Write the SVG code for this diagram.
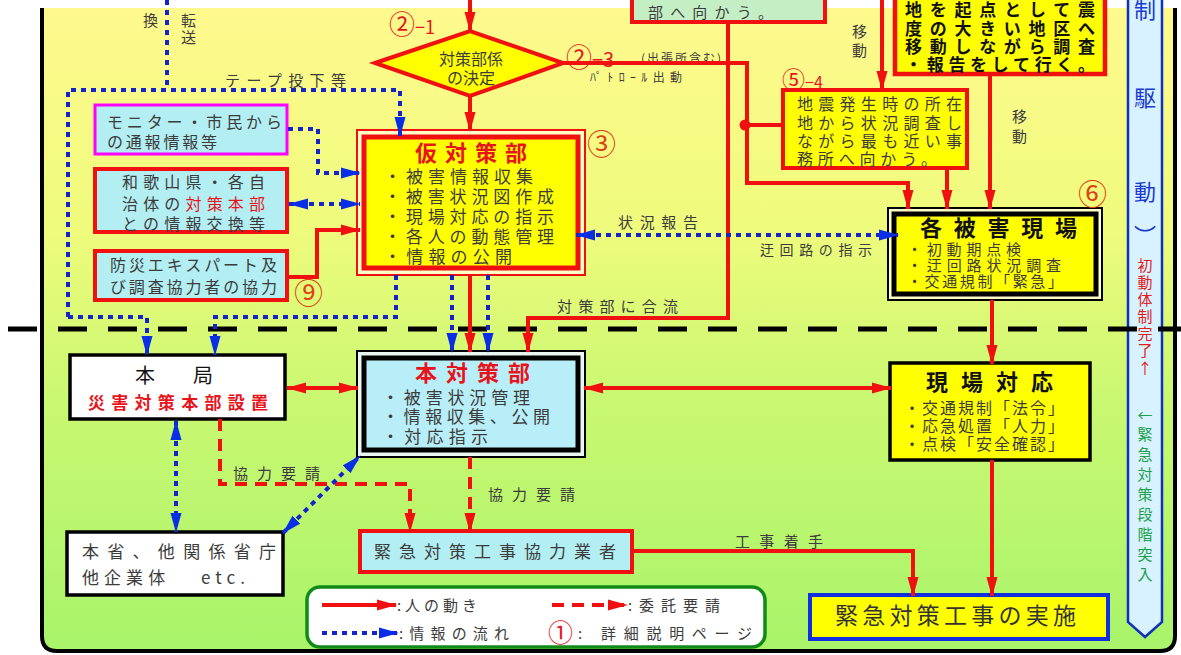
<svg xmlns="http://www.w3.org/2000/svg" width="1181" height="655" viewBox="0 0 1181 655">
<defs>
<linearGradient id="bg" x1="0" y1="0" x2="0" y2="1">
<stop offset="0" stop-color="#fff98e"/>
<stop offset="0.35" stop-color="#eefb7c"/>
<stop offset="0.6" stop-color="#cbf872"/>
<stop offset="1" stop-color="#a8f46a"/>
</linearGradient>
<marker id="ar" markerUnits="userSpaceOnUse" markerWidth="20" markerHeight="12" viewBox="0 0 20 12" refX="19" refY="6" orient="auto-start-reverse"><path d="M0,0.5 L20,6 L0,11.5 Z" fill="#f01010"/></marker>
<marker id="ab" markerUnits="userSpaceOnUse" markerWidth="20" markerHeight="12" viewBox="0 0 20 12" refX="19" refY="6" orient="auto-start-reverse"><path d="M0,0.5 L20,6 L0,11.5 Z" fill="#0a2ee6"/></marker>
</defs>
<style>
.tx{font-family:"Noto Sans CJK JP","Noto Sans CJK SC",sans-serif;fill:#3c3c3c}
.bd{font-weight:bold}
.red{fill:#e8141c}
.org{fill:#e04018}
.rl{fill:none;stroke:#f01010;stroke-width:4}
.rd{fill:none;stroke:#f01010;stroke-width:4;stroke-dasharray:12 8}
.bl{fill:none;stroke:#1424c8;stroke-width:4;stroke-dasharray:5 5}
.cy{fill:#b2eef2}
.ye{fill:#ffff00}
</style>
<rect x="0" y="0" width="1181" height="655" fill="#ffffff"/>
<path d="M42,8 L42,636 Q42,651 57,651 L1160,651 Q1175,651 1175,636 L1175,8" fill="url(#bg)" stroke="#000" stroke-width="4"/>
<g id="side-bar">
<path d="M1128,-5 L1128,622 L1145,637 L1162,622 L1162,-5 Z" fill="#d8f2ff" stroke="#1030c0" stroke-width="2.5"/>
<text class="tx" font-size="22" text-anchor="middle" style="fill:#1a3ad0"><tspan x="1145" y="18">制</tspan><tspan x="1145" y="106">駆</tspan><tspan x="1145" y="200">動</tspan><tspan x="1145" y="244">︶</tspan></text>
<text class="tx" font-size="15" text-anchor="middle" style="fill:#e02020"><tspan x="1145" y="271">初</tspan><tspan x="1145" y="288">動</tspan><tspan x="1145" y="305">体</tspan><tspan x="1145" y="322">制</tspan><tspan x="1145" y="339">完</tspan><tspan x="1145" y="356">了</tspan><tspan x="1145" y="374">↑</tspan></text>
<text class="tx" font-size="15" text-anchor="middle" style="fill:#20a048"><tspan x="1145" y="421">←</tspan><tspan x="1145" y="440">緊</tspan><tspan x="1145" y="460">急</tspan><tspan x="1145" y="480">対</tspan><tspan x="1145" y="500">策</tspan><tspan x="1145" y="520">段</tspan><tspan x="1145" y="540">階</tspan><tspan x="1145" y="560">突</tspan><tspan x="1145" y="580">入</tspan></text>
</g>
<line x1="8" y1="329" x2="1181" y2="329" stroke="#000" stroke-width="5" stroke-dasharray="29 21"/>

<g id="n-top-green">
<rect x="632" y="-10" width="193" height="32" fill="#c4eec4" stroke="#f01010" stroke-width="4"/>
<text class="tx" x="648" y="18" font-size="15" textLength="125">部へ向かう。</text>
</g>
<g id="n-top-right">
<rect x="895" y="-20" width="210" height="94" class="ye" stroke="#f01010" stroke-width="4.5"/>
<text class="tx bd" font-size="17" style="fill:#111"><tspan x="905" y="16" textLength="190">地を起点として震</tspan><tspan x="905" y="35" textLength="190">度の大きい地区へ</tspan><tspan x="905" y="53" textLength="190">移動しながら調査</tspan><tspan x="905" y="71" textLength="190">・報告をして行く。</tspan></text>
</g>
<g id="n-decision">
<polygon points="375,63 470,31 563,63 470,96" class="ye" stroke="#f01010" stroke-width="4"/>
<text class="tx" font-size="16" text-anchor="middle"><tspan x="471" y="65">対策部係</tspan><tspan x="471" y="84">の決定</tspan></text>
</g>
<g id="n-monitor">
<rect x="95" y="105" width="192" height="49" class="cy" stroke="#ff00ff" stroke-width="3"/>
<text class="tx" font-size="16"><tspan x="107" y="128" textLength="175">モニター・市民から</tspan><tspan x="107" y="148" textLength="110">の通報情報等</tspan></text>
</g>
<g id="n-wakayama">
<rect x="95" y="169" width="192" height="63" class="cy" stroke="#f01010" stroke-width="4"/>
<text class="tx" font-size="16"><tspan x="122" y="188" textLength="143">和歌山県・各自</tspan><tspan x="122" y="210" textLength="143">治体の<tspan class="red">対策本部</tspan></tspan><tspan x="122" y="230" textLength="143">との情報交換等</tspan></text>
</g>
<g id="n-expert">
<rect x="95" y="251" width="192" height="49" class="cy" stroke="#f01010" stroke-width="4"/>
<text class="tx" font-size="16"><tspan x="110" y="271" textLength="167">防災エキスパート及</tspan><tspan x="110" y="293" textLength="167">び調査協力者の協力</tspan></text>
</g>
<g id="n-kari">
<rect x="357" y="130" width="228" height="145" fill="#ffffc8" stroke="#f01010" stroke-width="2"/>
<rect x="364" y="137" width="214" height="131" class="ye" stroke="#f01010" stroke-width="5"/>
<text class="tx bd red" x="415" y="161" font-size="22" textLength="112">仮対策部</text>
<text class="tx" font-size="17"><tspan x="384" y="183" textLength="149">・被害情報収集</tspan><tspan x="384" y="203" textLength="170">・被害状況図作成</tspan><tspan x="384" y="223" textLength="170">・現場対応の指示</tspan><tspan x="384" y="243" textLength="170">・各人の動態管理</tspan><tspan x="384" y="263" textLength="128">・情報の公開</tspan></text>
</g>
<g id="n-5-4">
<rect x="783" y="90" width="184" height="78" class="ye" stroke="#f01010" stroke-width="4"/>
<text class="tx" font-size="16"><tspan x="797" y="110" textLength="165">地震発生時の所在</tspan><tspan x="797" y="129" textLength="165">地から状況調査し</tspan><tspan x="797" y="147" textLength="165">ながら最も近い事</tspan><tspan x="797" y="165" textLength="140">務所へ向かう。</tspan></text>
</g>
<g id="n-higai">
<rect x="888" y="208" width="214" height="92" fill="#ffffc8" stroke="#000" stroke-width="2"/>
<rect x="894" y="214" width="202" height="80" class="ye" stroke="#000" stroke-width="5"/>
<text class="tx bd" x="920" y="236" font-size="22" textLength="157" style="fill:#111">各被害現場</text>
<text class="tx" font-size="15"><tspan x="907" y="255" textLength="114">・初動期点検</tspan><tspan x="907" y="271" textLength="154">・迂回路状況調査</tspan><tspan x="907" y="287" textLength="156">・交通規制「緊急」</tspan></text>
</g>
<g id="n-honkyoku">
<rect x="70" y="355" width="215" height="64" fill="#fff" stroke="#000" stroke-width="3.5"/>
<text class="tx" x="135" y="383" font-size="20" textLength="78" style="fill:#111">本　局</text>
<text class="tx bd red" x="88" y="409" font-size="17" textLength="180">災害対策本部設置</text>
</g>
<g id="n-hontai">
<rect x="357" y="351" width="228" height="106" fill="#e8f8f0" stroke="#000" stroke-width="2"/>
<rect x="364" y="358" width="214" height="92" fill="#b8eef8" stroke="#000" stroke-width="5"/>
<text class="tx bd red" x="415" y="381" font-size="22" textLength="115">本対策部</text>
<text class="tx" font-size="17"><tspan x="382" y="404" textLength="148">・被害状況管理</tspan><tspan x="382" y="423" textLength="168">・情報収集、公開</tspan><tspan x="382" y="443" textLength="106">・対応指示</tspan></text>
</g>
<g id="n-genba">
<rect x="890" y="363" width="200" height="97" class="ye" stroke="#000" stroke-width="3.5"/>
<text class="tx bd" x="926" y="390" font-size="22" textLength="127" style="fill:#111">現場対応</text>
<text class="tx" font-size="16"><tspan x="904" y="414" textLength="160">・交通規制「法令」</tspan><tspan x="904" y="432" textLength="160">・応急処置「人力」</tspan><tspan x="904" y="450" textLength="160">・点検「安全確認」</tspan></text>
</g>
<g id="n-honsho">
<rect x="67" y="532" width="216" height="63" fill="#fff" stroke="#000" stroke-width="3.5"/>
<text class="tx" font-size="17"><tspan x="82" y="558" textLength="194">本省、他関係省庁</tspan><tspan x="82" y="584" textLength="163">他企業体　 etc.</tspan></text>
</g>
<g id="n-kyoryoku">
<rect x="360" y="531" width="272" height="41" class="cy" stroke="#f01010" stroke-width="4"/>
<text class="tx" x="374" y="558" font-size="17" textLength="242">緊急対策工事協力業者</text>
</g>
<g id="n-jisshi">
<rect x="810" y="595" width="298" height="44" class="ye" stroke="#1030e0" stroke-width="4"/>
<text class="tx" x="835" y="624" font-size="23" textLength="241" style="fill:#333">緊急対策工事の実施</text>
</g>
<g id="legend">
<rect x="307" y="587" width="458" height="60" rx="13" fill="#fff" stroke="#118a18" stroke-width="3.5"/>
<line x1="322" y1="605" x2="396" y2="605" class="rl" marker-end="url(#ar)"/>
<text class="tx" x="397" y="611" font-size="15" textLength="80">:人の動き</text>
<line x1="552" y1="605" x2="627" y2="605" class="rd" marker-end="url(#ar)"/>
<text class="tx" x="628" y="611" font-size="15" textLength="92">:委託要請</text>
<line x1="322" y1="633" x2="398" y2="633" class="bl" marker-end="url(#ab)"/>
<text class="tx" x="399" y="639" font-size="15" textLength="110">:情報の流れ</text>
<text class="tx red" x="548" y="642" font-size="25">①</text>
<text class="tx" x="578" y="639" font-size="15" textLength="174">: 詳細説明ページ</text>
</g>
<g id="labels">
<text class="tx" x="143" y="26" font-size="15">換</text>
<text class="tx" font-size="15"><tspan x="181" y="26">転</tspan><tspan x="181" y="43">送</tspan></text>
<text class="tx" x="225" y="86" font-size="15" textLength="121">テープ投下等</text>
<text class="tx red" x="389" y="34" font-size="26">②<tspan font-size="18">−1</tspan></text>
<text class="tx red" x="566" y="67" font-size="26">②<tspan font-size="20">−3</tspan></text>
<text class="tx" x="641" y="63" font-size="12" textLength="80">(出張所含む)</text>
<text class="tx" x="590" y="82" font-size="12" textLength="92">ﾊﾟﾄﾛｰﾙ出動</text>
<text class="tx" font-size="15"><tspan x="852" y="37">移</tspan><tspan x="852" y="56">動</tspan></text>
<text class="tx" font-size="15"><tspan x="1012" y="122">移</tspan><tspan x="1012" y="142">動</tspan></text>
<text class="tx red" x="782" y="88" font-size="23">⑤<tspan font-size="16">−4</tspan></text>
<text class="tx org" x="587" y="155" font-size="29">③</text>
<text class="tx org" x="1078" y="205" font-size="29">⑥</text>
<text class="tx org" x="294" y="304" font-size="29">⑨</text>
<text class="tx" x="618" y="228" font-size="15" textLength="80">状況報告</text>
<text class="tx" x="760" y="255" font-size="14" textLength="112">迂回路の指示</text>
<text class="tx" x="557" y="312" font-size="15" textLength="121">対策部に合流</text>
<text class="tx" x="233" y="479" font-size="15" textLength="87">協力要請</text>
<text class="tx" x="488" y="500" font-size="15" textLength="87">協力要請</text>
<text class="tx" x="735" y="547" font-size="15" textLength="88">工事着手</text>
</g>
<g id="connectors">
<line x1="470" y1="0" x2="470" y2="31" class="rl" marker-end="url(#ar)"/>
<line x1="470" y1="96" x2="470" y2="131" class="rl" marker-end="url(#ar)"/>
<polyline points="563,63 747,63 747,183 908,183 908,209" class="rl" marker-end="url(#ar)"/>
<circle cx="745" cy="125" r="5.5" fill="#f01010"/>
<line x1="745" y1="125" x2="783" y2="125" class="rl"/>
<polyline points="728,22 728,318 528,318 528,352" class="rl" marker-end="url(#ar)"/>
<line x1="882" y1="0" x2="882" y2="90" class="rl" marker-end="url(#ar)"/>
<line x1="947" y1="168" x2="947" y2="209" class="rl" marker-end="url(#ar)"/>
<line x1="990" y1="74" x2="990" y2="209" class="rl" marker-end="url(#ar)"/>
<line x1="470" y1="275" x2="470" y2="352" class="rl" marker-end="url(#ar)"/>
<polyline points="287,277 317,277 317,230 360,230" class="rl" marker-end="url(#ar)"/>
<line x1="992" y1="300" x2="992" y2="364" class="rl" marker-end="url(#ar)"/>
<line x1="287" y1="388" x2="358" y2="388" class="rl" marker-start="url(#ar)" marker-end="url(#ar)"/>
<line x1="584" y1="388" x2="891" y2="388" class="rl" marker-start="url(#ar)" marker-end="url(#ar)"/>
<line x1="992" y1="460" x2="992" y2="596" class="rl" marker-end="url(#ar)"/>
<polyline points="632,551 913,551 913,596" class="rl" marker-end="url(#ar)"/>
<polyline points="220,419 220,484 410,484 410,532" class="rd" marker-end="url(#ar)"/>
<line x1="470" y1="457" x2="470" y2="532" class="rd" marker-end="url(#ar)"/>
<line x1="167" y1="0" x2="167" y2="90" class="bl"/>
<polyline points="68,317 68,90 400,90 400,136" class="bl" marker-end="url(#ab)"/>
<polyline points="68,317 147,317 147,355" class="bl" marker-end="url(#ab)"/>
<polyline points="288,129 318,129 318,173 360,173" class="bl" marker-end="url(#ab)"/>
<line x1="289" y1="204" x2="360" y2="204" class="bl" marker-start="url(#ab)" marker-end="url(#ab)"/>
<line x1="576" y1="235" x2="898" y2="235" class="bl" marker-start="url(#ab)" marker-end="url(#ab)"/>
<polyline points="396,275 396,317 215,317 215,355" class="bl" marker-end="url(#ab)"/>
<line x1="452" y1="275" x2="452" y2="352" class="bl" marker-end="url(#ab)"/>
<line x1="488" y1="275" x2="488" y2="352" class="bl" marker-end="url(#ab)"/>
<line x1="176" y1="421" x2="176" y2="532" class="bl" marker-start="url(#ab)" marker-end="url(#ab)"/>
<line x1="283" y1="533" x2="360" y2="456" class="bl" marker-start="url(#ab)" marker-end="url(#ab)"/>
</g>
</svg>
